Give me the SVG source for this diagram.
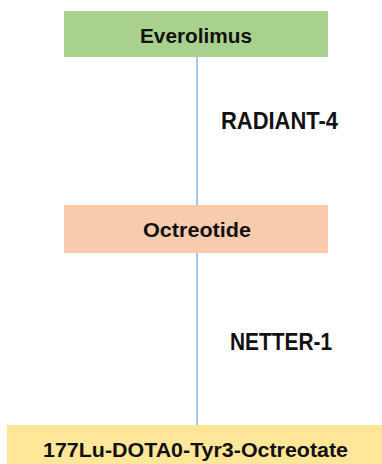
<svg xmlns="http://www.w3.org/2000/svg" width="382" height="464" viewBox="0 0 382 464">
<style>
.t{font-family:"Liberation Sans",Arial,sans-serif;font-weight:bold;fill:#111;}
.n{font-size:20px;text-anchor:middle;}
.l{font-size:23px;}
</style>
<rect width="382" height="464" fill="#fff"/>
<g id="connectors">
<line x1="197" y1="57" x2="197" y2="205" stroke="#8DB8E8" stroke-width="1.6"/>
<line x1="197" y1="253" x2="197" y2="425" stroke="#8DB8E8" stroke-width="1.6"/>
<text class="t l" x="221" y="129" textLength="117" lengthAdjust="spacingAndGlyphs">RADIANT-4</text>
<text class="t l" x="230" y="350" textLength="102" lengthAdjust="spacingAndGlyphs">NETTER-1</text>
</g>
<g id="everolimus">
<rect x="64" y="11" width="264" height="46" fill="#A9D18E"/>
<text class="t n" x="196" y="42.5" textLength="112" lengthAdjust="spacingAndGlyphs">Everolimus</text>
</g>
<g id="octreotide">
<rect x="64" y="205" width="264" height="48" fill="#F8CBAD"/>
<text class="t n" x="197" y="237" textLength="108" lengthAdjust="spacingAndGlyphs">Octreotide</text>
</g>
<g id="lutetium">
<rect x="7" y="425" width="375" height="39" fill="#FFE699"/>
<text class="t n" x="195.5" y="457" textLength="305" lengthAdjust="spacingAndGlyphs">177Lu-DOTA0-Tyr3-Octreotate</text>
</g>
</svg>
